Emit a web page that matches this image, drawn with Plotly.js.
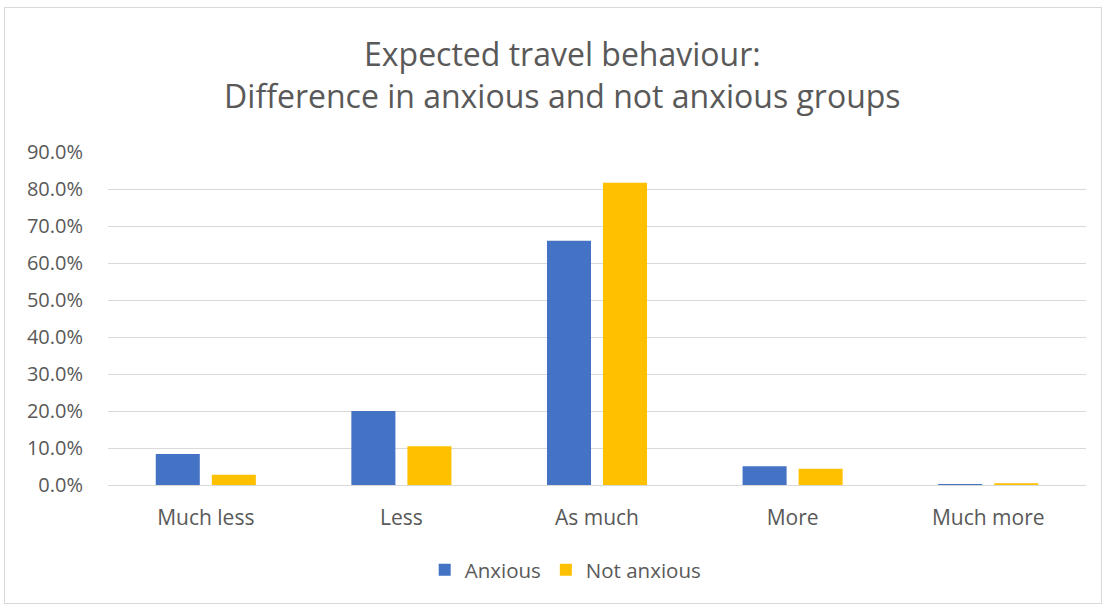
<!DOCTYPE html>
<html>
<head>
<meta charset="utf-8">
<script src="https://cdn.plot.ly/plotly-3.0.1.min.js"></script>
<style>
  html, body { margin: 0; padding: 0; background: #ffffff; }
  #frame { position: absolute; left: 4px; top: 7px; width: 1098px; height: 597px; border: 1px solid #d9d9d9; box-sizing: border-box; }
  #chart { position: absolute; left: 0; top: 0; width: 1107px; height: 606px; }
</style>
</head>
<body>
<div id="frame"></div>
<div id="chart"></div>
<script>
const categories = ["Much less", "Less", "As much", "More", "Much more"];
const anxious = [8.4, 20.0, 66.0, 5.1, 0.3];
const notAnxious = [2.8, 10.5, 81.7, 4.4, 0.5];
const yTicks = [0, 10, 20, 30, 40, 50, 60, 70, 80, 90];
const yTickText = yTicks.map(v => v.toFixed(1) + "%");

const font = "Open Sans, sans-serif";
const data = [
  { type: "bar", name: "Anxious", x: categories, y: anxious, marker: { color: "#4472c4" }, hoverinfo: "skip" },
  { type: "bar", name: "Not anxious", x: categories, y: notAnxious, marker: { color: "#ffc000" }, hoverinfo: "skip" }
];
const layout = {
  width: 1107, height: 606,
  paper_bgcolor: "rgba(0,0,0,0)", plot_bgcolor: "rgba(0,0,0,0)",
  margin: { l: 108, r: 21, t: 152, b: 121 },
  font: { family: font, color: "#595959", size: 20 },
  title: { text: "Expected travel behaviour:<br>Difference in anxious and not anxious groups",
           font: { family: font, size: 32, color: "#595959" },
           x: 0.508, xanchor: "center", y: 1 - 66 / 606, yanchor: "middle", yref: "container" },
  barmode: "group", bargap: 0.427, bargroupgap: 0.214,
  xaxis: { showgrid: false, showline: true, linecolor: "#d9d9d9", linewidth: 1, ticks: "",
           tickfont: { size: 21, color: "#595959" }, ticklabelstandoff: 14 },
  yaxis: { range: [0, 90], tickvals: yTicks, ticktext: yTickText, showgrid: true, gridcolor: "#d9d9d9",
           gridwidth: 1, zeroline: false, showline: false, ticks: "", ticklabelstandoff: 24,
           tickfont: { size: 20, color: "#595959" } },
  showlegend: true,
  legend: { orientation: "h", x: 0.468, xanchor: "center", y: 1 - 570 / 606, yref: "container", yanchor: "middle",
            font: { size: 20.5, color: "#595959" }, itemwidth: 30, traceorder: "normal" }
};
Plotly.newPlot("chart", data, layout, { displayModeBar: false, staticPlot: true });
</script>
</body>
</html>
